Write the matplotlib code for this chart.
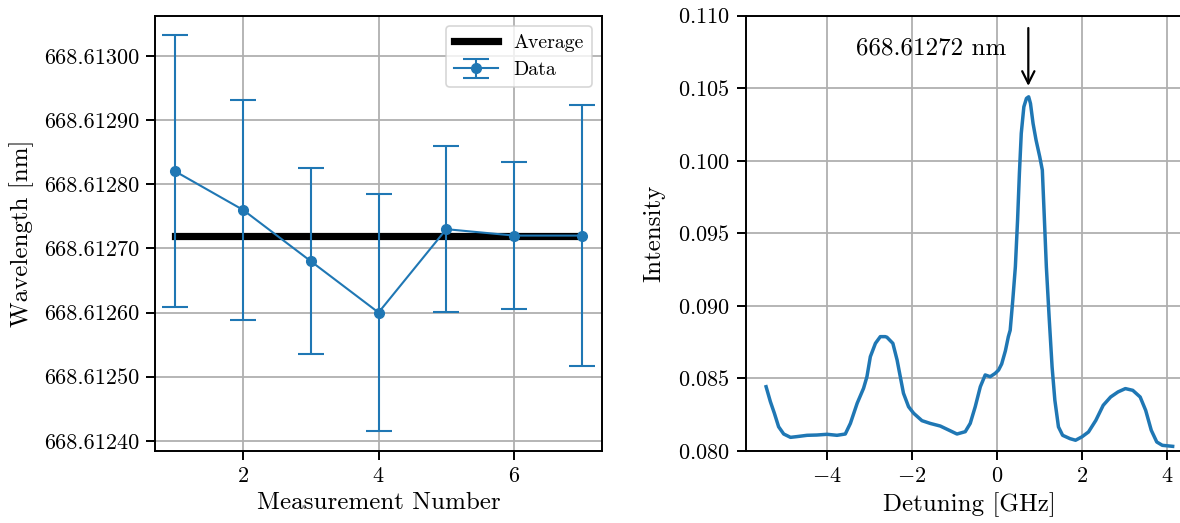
import matplotlib
matplotlib.use("Agg")
import matplotlib.pyplot as plt
from matplotlib.ticker import FormatStrFormatter
import numpy as np

plt.rcParams['font.family'] = ['cmr10', 'DejaVu Serif']
plt.rcParams['mathtext.fontset'] = 'cm'
plt.rcParams['axes.formatter.use_mathtext'] = True
plt.rcParams['axes.unicode_minus'] = True

# ---- Left panel data ----
measurement = [1, 2, 3, 4, 5, 6, 7]
wavelength = [668.612820, 668.612760, 668.612680, 668.612600,
              668.612730, 668.612720, 668.612720]
wavelength_err = [0.000212, 0.000172, 0.000145, 0.000185,
                  0.000129, 0.000115, 0.000203]

# ---- Right panel data ----
detuning = [-5.435, -5.334, -5.24, -5.14, -5.02, -4.86, -4.71, -4.47, -4.24,
            -4.0, -3.765, -3.57, -3.45, -3.29, -3.14, -3.06, -2.98, -2.86,
            -2.745, -2.63, -2.59, -2.45, -2.35, -2.275, -2.2, -2.08, -1.96,
            -1.765, -1.57, -1.334, -1.14, -0.94, -0.745, -0.628, -0.51, -0.39,
            -0.275, -0.158, -0.04, 0.04, 0.113, 0.2, 0.27, 0.313, 0.374, 0.435,
            0.487, 0.53, 0.574, 0.635, 0.696, 0.748, 0.791, 0.852, 0.922,
            1.009, 1.07, 1.113, 1.165, 1.23, 1.30, 1.365, 1.45, 1.548, 1.722,
            1.852, 2.0, 2.157, 2.33, 2.504, 2.678, 2.852, 3.026, 3.2, 3.374,
            3.504, 3.635, 3.765, 3.896, 4.139]
intensity = [0.08443, 0.0834, 0.0826, 0.08167, 0.08117, 0.08094, 0.08099,
             0.08108, 0.0811, 0.08115, 0.08108, 0.08117, 0.0819, 0.08329,
             0.08432, 0.08512, 0.0865, 0.08742, 0.08788, 0.08788, 0.08784,
             0.08742, 0.08627, 0.08512, 0.08398, 0.08305, 0.0826, 0.08209,
             0.0819, 0.08172, 0.08145, 0.08117, 0.08133, 0.0819, 0.08305,
             0.08443, 0.08524, 0.08512, 0.08535, 0.08558, 0.08600, 0.08690,
             0.08788, 0.08832, 0.09039, 0.09269, 0.09591, 0.09913, 0.10189,
             0.10372, 0.1043, 0.10441, 0.10395, 0.10257, 0.10143, 0.10028,
             0.09936, 0.09637, 0.09269, 0.08924, 0.08579, 0.0835, 0.08166,
             0.08108, 0.08085, 0.08074, 0.08097, 0.08131, 0.08211, 0.08315,
             0.08372, 0.08407, 0.0843, 0.08418, 0.08372, 0.0828, 0.08143,
             0.08062, 0.08039, 0.08032]

peak_label = "668.61272 nm"
peak_x = 0.74
arrow_tip_y = 0.10516
arrow_tail_y = 0.10915

blue = '#1f77b4'

fig = plt.figure(figsize=(11.8, 5.23), dpi=100)
ax1 = fig.add_axes([0.1314, 0.1377, 0.3788, 0.8323])
ax2 = fig.add_axes([0.632, 0.1377, 0.379, 0.8323])

for ax in (ax1, ax2):
    for s in ax.spines.values():
        s.set_linewidth(1.4)
    ax.tick_params(labelsize=16, length=6.5, width=1.4, pad=5)
    ax.grid(True, color='#b0b0b0', linewidth=1.3)
    ax.set_axisbelow(True)

# Left panel
avg = np.mean(wavelength)
ax1.plot([measurement[0], measurement[-1]], [avg, avg], color='black',
         linewidth=5.2, label='Average', zorder=2)
ax1.errorbar(measurement, wavelength, yerr=wavelength_err, color=blue,
             marker='o', markersize=7, linewidth=1.5, elinewidth=1.5,
             capsize=9.5, capthick=1.5, label='Data', zorder=3)
ax1.yaxis.set_major_formatter(FormatStrFormatter('%.5f'))
ax1.set_xlabel('Measurement Number', fontsize=18)
ax1.set_ylabel('Wavelength [nm]', fontsize=18, labelpad=7)
leg = ax1.legend(loc='upper right', fontsize=14.3, handlelength=2.2)
leg.get_frame().set_linewidth(1.2)

# Right panel
ax2.plot(detuning, intensity, color=blue, linewidth=2.5)
ax2.set_ylim(0.080, 0.110)
ax2.set_yticks([0.080, 0.085, 0.090, 0.095, 0.100, 0.105, 0.110])
ax2.set_xlabel('Detuning [GHz]', fontsize=18)
ax2.set_ylabel('Intensity', fontsize=18, labelpad=9)
ax2.annotate('', xy=(peak_x, arrow_tip_y), xytext=(peak_x, arrow_tail_y),
             arrowprops=dict(arrowstyle='->', color='black', lw=1.6,
                             mutation_scale=22, shrinkA=0, shrinkB=0))
ax2.text(0.22, 0.10777, peak_label, fontsize=18, ha='right', va='center')

fig.savefig('out.png', dpi=100)
